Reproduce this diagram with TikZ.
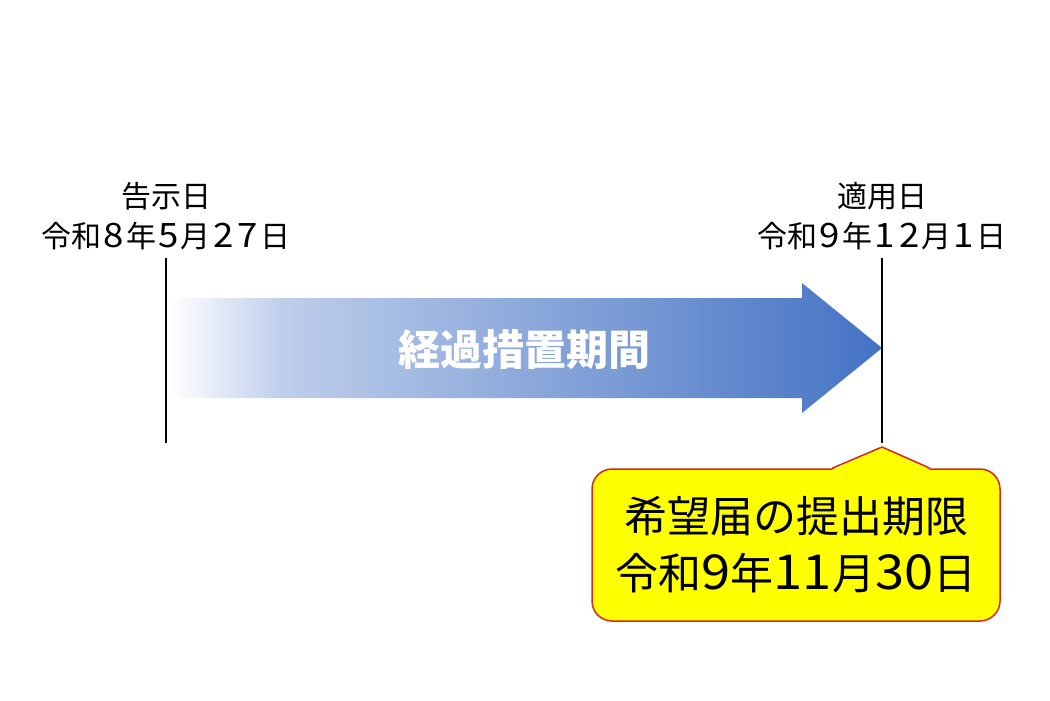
\documentclass[tikz,border=0pt]{standalone}
\usepackage{fontspec}
\setmainfont{Noto Sans CJK JP}
\usepackage{graphicx}
\usepackage{xcolor}
\usetikzlibrary{positioning, calc}
\definecolor{arrowblue}{RGB}{68,114,196}
\definecolor{calloutred}{RGB}{215,40,25}
\definecolor{calloutyellow}{RGB}{255,255,0}
\pgfdeclarehorizontalshading{periodfade}{100bp}{color(0bp)=(white); color(25bp)=(white); color(33bp)=(arrowblue!35); color(75bp)=(arrowblue); color(100bp)=(arrowblue)}
% wide digit, as set in the dates
\newcommand{\dg}[2][0.82em]{\makebox[#1]{\scalebox{1.22}[1.12]{#2}}}

\begin{document}
\begin{tikzpicture}[x=1pt, y=-1pt,
  datelabel/.style={font=\fontsize{30}{40}\selectfont, align=center, inner sep=0pt},
  periodtext/.style={font=\bfseries\fontsize{42}{48}\selectfont, text=white, inner sep=0pt},
  callout/.style={draw=calloutred, fill=calloutyellow, line width=1.5pt, rounded corners=20pt,
    minimum width=408pt, minimum height=152pt, align=center, inner sep=0pt,
    font=\fontsize{43}{57}\selectfont}]
  \useasboundingbox (0,0) rectangle (1050,701);
  % period arrow
  \shade[shading=periodfade] (170,298) -- (802,298) -- (802,283) -- (882,348)
    -- (802,413) -- (802,398) -- (170,398) -- cycle;
  \node[periodtext] (period) at (524,350) {経過措置期間};
  % date markers
  \coordinate (start top) at (166,258);
  \coordinate (start bottom) at (166,443);
  \coordinate (end top) at (882,258);
  \coordinate (end bottom) at (882,443);
  \draw[line width=1.2pt] (start top) -- (start bottom);
  \draw[line width=1.2pt] (end top) -- (end bottom);
  \node[datelabel] (notice) at (166,216) {告示日\\令和\dg8年\dg5月\dg2\dg7日};
  \node[datelabel] (apply) at (882,216) {適用日\\令和\dg9年\dg1\dg2月\dg1日};
  % deadline callout
  \node[callout] (deadline) at (796,545)
    {希望届の提出期限\\令和\dg[0.68em]9年\dg[0.68em]1\dg[0.68em]1月\dg[0.68em]3\dg[0.68em]0日};
  \coordinate (tip) at (882,447);
  \fill[calloutyellow] ([xshift=36pt, yshift=-1.5pt]deadline.north) -- (tip)
    -- ([xshift=134pt, yshift=-1.5pt]deadline.north) -- cycle;
  \draw[calloutred, line width=1.5pt, line join=round] ([xshift=36pt]deadline.north) -- (tip)
    -- ([xshift=134pt]deadline.north);
\end{tikzpicture}
\end{document}
